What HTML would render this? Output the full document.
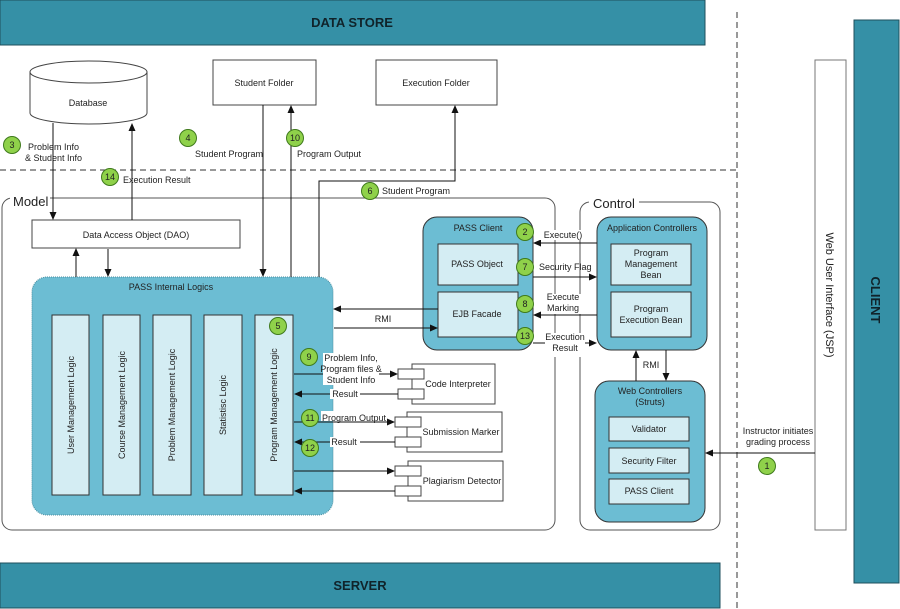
<!DOCTYPE html>
<html><head><meta charset="utf-8"><style>
html,body{margin:0;padding:0;background:#fff}
svg{display:block}
text{font-family:"Liberation Sans",Arial,sans-serif;font-size:9px;fill:#222}
</style></head><body>
<svg width="900" height="609" viewBox="0 0 900 609" xmlns="http://www.w3.org/2000/svg">
<defs>
<marker id="a" markerWidth="8" markerHeight="8" refX="7" refY="4" orient="auto" markerUnits="userSpaceOnUse"><path d="M0,0.5 L8,4 L0,7.5 z" fill="#111"/></marker>
</defs>
<rect x="0" y="0" width="705" height="45" fill="#3590a6" stroke="#1f4f5c"/>
<text x="352" y="27" text-anchor="middle" style="font-size:13px;font-weight:bold;fill:#10232a">DATA STORE</text>
<rect x="0" y="563" width="720" height="45" fill="#3590a6" stroke="#1f4f5c"/>
<text x="360" y="590" text-anchor="middle" style="font-size:13px;font-weight:bold;fill:#10232a">SERVER</text>
<rect x="854" y="20" width="45" height="563" fill="#3590a6" stroke="#1f4f5c"/>
<text transform="translate(871,300) rotate(90)" text-anchor="middle" style="font-size:13px;font-weight:bold;fill:#10232a">CLIENT</text>
<rect x="815" y="60" width="31" height="470" fill="#fff" stroke="#777"/>
<text transform="translate(826,295) rotate(90)" text-anchor="middle" style="font-size:11px">Web User Interface (JSP)</text>
<line x1="737" y1="12" x2="737" y2="609" stroke="#333" stroke-dasharray="6,4"/>
<line x1="0" y1="170" x2="737" y2="170" stroke="#333" stroke-dasharray="6,4"/>
<path d="M30,72 L30,113 A58.5,11 0 0 0 147,113 L147,72" fill="#fff" stroke="#444"/>
<ellipse cx="88.5" cy="72" rx="58.5" ry="11" fill="#fff" stroke="#444"/>
<text x="88" y="106" text-anchor="middle">Database</text>
<rect x="213" y="60" width="103" height="45" fill="#fff" stroke="#444"/>
<text x="264" y="86" text-anchor="middle">Student Folder</text>
<rect x="376" y="60" width="121" height="45" fill="#fff" stroke="#444"/>
<text x="436" y="86" text-anchor="middle">Execution Folder</text>
<rect x="2" y="198" width="553" height="332" rx="10" fill="none" stroke="#555"/>
<rect x="10" y="192" width="40" height="12" fill="#fff"/>
<text x="13" y="206" style="font-size:13px">Model</text>
<rect x="580" y="202" width="140" height="328" rx="10" fill="none" stroke="#555"/>
<rect x="589" y="195" width="50" height="12" fill="#fff"/>
<text x="593" y="208" style="font-size:13px">Control</text>
<rect x="32" y="220" width="208" height="28" fill="#fff" stroke="#444"/>
<text x="136" y="238" text-anchor="middle">Data Access Object (DAO)</text>
<rect x="32" y="277" width="301" height="238" rx="15" fill="#6cbdd3" stroke="#4a8ea0" stroke-dasharray="1,1"/>
<text x="171" y="290" text-anchor="middle">PASS Internal Logics</text>
<g fill="#d4edf3" stroke="#333">
<rect x="52" y="315" width="37" height="180"/><rect x="103" y="315" width="37" height="180"/><rect x="153" y="315" width="38" height="180"/><rect x="204" y="315" width="38" height="180"/><rect x="255" y="315" width="38" height="180"/>
</g>
<text transform="translate(74,405) rotate(-90)" text-anchor="middle">User Management Logic</text>
<text transform="translate(125,405) rotate(-90)" text-anchor="middle">Course Management Logic</text>
<text transform="translate(175,405) rotate(-90)" text-anchor="middle">Problem Management Logic</text>
<text transform="translate(226,405) rotate(-90)" text-anchor="middle">Statistisc Logic</text>
<text transform="translate(277,405) rotate(-90)" text-anchor="middle">Program Management Logic</text>
<rect x="423" y="217" width="110" height="133" rx="14" fill="#6cbdd3" stroke="#333"/>
<text x="478" y="231" text-anchor="middle">PASS Client</text>
<rect x="438" y="244" width="80" height="41" fill="#d4edf3" stroke="#333"/>
<text x="477" y="267" text-anchor="middle">PASS Object</text>
<rect x="438" y="292" width="80" height="45" fill="#d4edf3" stroke="#333"/>
<text x="477" y="317" text-anchor="middle">EJB Facade</text>
<rect x="597" y="217" width="110" height="133" rx="14" fill="#6cbdd3" stroke="#333"/>
<text x="652" y="231" text-anchor="middle">Application Controllers</text>
<rect x="611" y="244" width="80" height="41" fill="#d4edf3" stroke="#333"/>
<text x="651" y="256" text-anchor="middle">Program</text><text x="651" y="267" text-anchor="middle">Management</text><text x="651" y="278" text-anchor="middle">Bean</text>
<rect x="611" y="292" width="80" height="45" fill="#d4edf3" stroke="#333"/>
<text x="651" y="312" text-anchor="middle">Program</text><text x="651" y="323" text-anchor="middle">Execution Bean</text>
<rect x="595" y="381" width="110" height="141" rx="14" fill="#6cbdd3" stroke="#333"/>
<text x="650" y="394" text-anchor="middle">Web Controllers</text><text x="650" y="405" text-anchor="middle">(Struts)</text>
<rect x="609" y="417" width="80" height="24" fill="#d4edf3" stroke="#333"/><text x="649" y="432" text-anchor="middle">Validator</text>
<rect x="609" y="448" width="80" height="25" fill="#d4edf3" stroke="#333"/><text x="649" y="464" text-anchor="middle">Security Filter</text>
<rect x="609" y="479" width="80" height="25" fill="#d4edf3" stroke="#333"/><text x="649" y="494" text-anchor="middle">PASS Client</text>
<g fill="#fff" stroke="#444">
<rect x="412" y="364" width="83" height="40"/><rect x="398" y="369" width="26" height="10"/><rect x="398" y="389" width="26" height="10"/>
<rect x="407" y="412" width="95" height="40"/><rect x="395" y="417" width="26" height="10"/><rect x="395" y="437" width="26" height="10"/>
<rect x="408" y="461" width="95" height="40"/><rect x="395" y="466" width="26" height="10"/><rect x="395" y="486" width="26" height="10"/>
</g>
<text x="458" y="387" text-anchor="middle">Code Interpreter</text>
<text x="461" y="435" text-anchor="middle">Submission Marker</text>
<text x="462" y="484" text-anchor="middle">Plagiarism Detector</text>
<g stroke="#111" fill="none" stroke-width="1">
<line x1="53" y1="123" x2="53" y2="219" marker-end="url(#a)"/>
<line x1="132" y1="220" x2="132" y2="124" marker-end="url(#a)"/>
<line x1="263" y1="105" x2="263" y2="276" marker-end="url(#a)"/>
<line x1="291" y1="277" x2="291" y2="106" marker-end="url(#a)"/>
<polyline points="319,277 319,181 455,181 455,106" marker-end="url(#a)"/>
<line x1="76" y1="277" x2="76" y2="249" marker-end="url(#a)"/>
<line x1="108" y1="249" x2="108" y2="276" marker-end="url(#a)"/>
<line x1="438" y1="309" x2="334" y2="309" marker-end="url(#a)"/>
<line x1="334" y1="328" x2="437" y2="328" marker-end="url(#a)"/>
<line x1="597" y1="243" x2="534" y2="243" marker-end="url(#a)"/>
<line x1="533" y1="277" x2="596" y2="277" marker-end="url(#a)"/>
<line x1="597" y1="315" x2="534" y2="315" marker-end="url(#a)"/>
<line x1="533" y1="343" x2="596" y2="343" marker-end="url(#a)"/>
<line x1="636" y1="381" x2="636" y2="351" marker-end="url(#a)"/>
<line x1="666" y1="350" x2="666" y2="380" marker-end="url(#a)"/>
<line x1="815" y1="453" x2="706" y2="453" marker-end="url(#a)"/>
<line x1="294" y1="374" x2="397" y2="374" marker-end="url(#a)"/>
<line x1="398" y1="394" x2="295" y2="394" marker-end="url(#a)"/>
<line x1="294" y1="422" x2="394" y2="422" marker-end="url(#a)"/>
<line x1="395" y1="442" x2="295" y2="442" marker-end="url(#a)"/>
<line x1="294" y1="471" x2="394" y2="471" marker-end="url(#a)"/>
<line x1="395" y1="491" x2="295" y2="491" marker-end="url(#a)"/>
</g>
<g>
<rect x="330" y="389" width="30" height="10" fill="#fff"/><text x="345" y="397" text-anchor="middle">Result</text>
<rect x="330" y="437" width="30" height="10" fill="#fff"/><text x="344" y="445" text-anchor="middle">Result</text>
<rect x="321" y="411" width="66" height="10" fill="#fff"/><text x="322" y="421">Program Output</text>
<rect x="323" y="353" width="56" height="32" fill="#fff"/>
<text x="351" y="361" text-anchor="middle">Problem Info,</text><text x="351" y="372" text-anchor="middle">Program files &amp;</text><text x="351" y="383" text-anchor="middle">Student Info</text>
<text x="383" y="322" text-anchor="middle">RMI</text>
<rect x="538" y="230" width="46" height="10" fill="#fff"/><text x="563" y="238" text-anchor="middle">Execute()</text>
<text x="539" y="270">Security Flag</text>
<rect x="545" y="294" width="36" height="20" fill="#fff"/><text x="563" y="300" text-anchor="middle">Execute</text><text x="563" y="311" text-anchor="middle">Marking</text>
<rect x="545" y="333" width="40" height="24" fill="#fff"/><text x="565" y="340" text-anchor="middle">Execution</text><text x="565" y="351" text-anchor="middle">Result</text>
<text x="651" y="368" text-anchor="middle">RMI</text>
<text x="778" y="434" text-anchor="middle">Instructor initiates</text><text x="778" y="445" text-anchor="middle">grading process</text>
<text x="28" y="150">Problem Info</text><text x="25" y="161">&amp; Student Info</text>
<text x="123" y="183">Execution Result</text>
<text x="195" y="157">Student Program</text>
<text x="297" y="157">Program Output</text>
<text x="382" y="194">Student Program</text>
</g>
<g fill="#8fd14a" stroke="#3f7a1c" stroke-width="1">
<circle cx="767" cy="466" r="8.5"/><circle cx="525" cy="232" r="8.5"/><circle cx="12" cy="145" r="8.5"/><circle cx="188" cy="138" r="8.5"/><circle cx="278" cy="326" r="8.5"/><circle cx="370" cy="191" r="8.5"/><circle cx="525" cy="267" r="8.5"/><circle cx="525" cy="304" r="8.5"/><circle cx="309" cy="357" r="8.5"/><circle cx="295" cy="138" r="8.5"/><circle cx="310" cy="418" r="8.5"/><circle cx="310" cy="448" r="8.5"/><circle cx="525" cy="336" r="8.5"/><circle cx="110" cy="177" r="8.5"/>
</g>
<g text-anchor="middle" style="font-size:9px">
<text x="767" y="469">1</text><text x="525" y="235">2</text><text x="12" y="148">3</text><text x="188" y="141">4</text><text x="278" y="329">5</text><text x="370" y="194">6</text><text x="525" y="270">7</text><text x="525" y="307">8</text><text x="309" y="360">9</text><text x="295" y="141">10</text><text x="310" y="421">11</text><text x="310" y="451">12</text><text x="525" y="339">13</text><text x="110" y="180">14</text>
</g>
</svg>
</body></html>
